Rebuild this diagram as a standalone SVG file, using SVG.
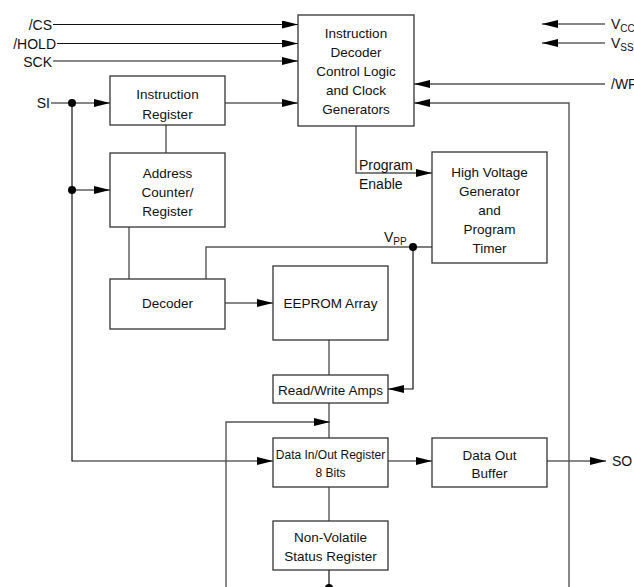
<svg xmlns="http://www.w3.org/2000/svg" width="634" height="587" viewBox="0 0 634 587">
<style>
.box{fill:#fff;stroke:#333;stroke-width:1.3}
.t{font-family:"Liberation Sans",Arial,sans-serif;font-size:13.5px;fill:#111;text-anchor:middle}
.l{font-family:"Liberation Sans",Arial,sans-serif;font-size:14px;fill:#111}
.s{font-size:10px}
.w{fill:none;stroke:#111;stroke-width:1.2}
.g{fill:none;stroke:#555;stroke-width:1.4}
.dot{fill:#000}
</style>
<defs>
<marker id="ah" markerUnits="userSpaceOnUse" markerWidth="16" markerHeight="8" refX="16" refY="4" orient="auto">
<path d="M0,0 L16,4 L0,8 z" fill="#000"/>
</marker>
</defs>

<g id="connectors">
<path class="w" d="M53,24.5 H298" marker-end="url(#ah)"/>
<path class="w" d="M57,43.5 H298" marker-end="url(#ah)"/>
<path class="w" d="M53,61 H298" marker-end="url(#ah)"/>
<path class="w" d="M51,103 H110" marker-end="url(#ah)"/>
<path class="w" d="M225,103 H298" marker-end="url(#ah)"/>
<path class="w" d="M72,103 V461 H273" marker-end="url(#ah)"/>
<path class="w" d="M72,190 H110" marker-end="url(#ah)"/>
<path class="g" d="M166,125 V153"/>
<path class="g" d="M129,227 V279"/>
<path class="g" d="M356,126 V173 H432" marker-end="url(#ah)"/>
<path class="g" d="M206,279 V247 H432"/>
<path class="w" d="M413,247 V389 H388" marker-end="url(#ah)"/>
<path class="w" d="M225,303 H273" marker-end="url(#ah)"/>
<path class="g" d="M329,340 V375"/>
<path class="g" d="M329,403 V438"/>
<path class="g" d="M226,590 V422 H330" marker-end="url(#ah)"/>
<path class="w" d="M388,461 H432" marker-end="url(#ah)"/>
<path class="w" d="M547,461 H606" marker-end="url(#ah)"/>
<path class="g" d="M329,487 V521"/>
<path class="w" d="M329,570 V590"/>
<path class="g" d="M569,590 V103 H414" marker-end="url(#ah)"/>
<path class="g" d="M605,84 H414" marker-end="url(#ah)"/>
<path class="w" d="M605,24 H542" marker-end="url(#ah)"/>
<path class="w" d="M605,43 H542" marker-end="url(#ah)"/>
<circle class="dot" cx="72" cy="103" r="4"/>
<circle class="dot" cx="72" cy="190" r="4"/>
<circle class="dot" cx="413" cy="247" r="4"/>
<circle class="dot" cx="329" cy="588" r="4"/>
</g>

<g id="pins">
<text class="l" x="52" y="30" text-anchor="end">/CS</text>
<text class="l" x="56" y="49" text-anchor="end">/HOLD</text>
<text class="l" x="52" y="67" text-anchor="end">SCK</text>
<text class="l" x="50" y="108" text-anchor="end">SI</text>
<text class="l" x="611" y="29">V<tspan class="s" dy="3">CC</tspan></text>
<text class="l" x="611" y="48">V<tspan class="s" dy="3">SS</tspan></text>
<text class="l" x="611" y="89">/WP</text>
<text class="l" x="612" y="466">SO</text>
<text class="l" x="384" y="242">V<tspan class="s" dy="3">PP</tspan></text>
<text class="l" x="359" y="170">Program</text>
<text class="l" x="359" y="189">Enable</text>
</g>

<g id="decoder-ctrl">
<rect class="box" x="298" y="15" width="116" height="111"/>
<text class="t" x="356" y="38">Instruction</text>
<text class="t" x="356" y="57">Decoder</text>
<text class="t" x="356" y="76">Control Logic</text>
<text class="t" x="356" y="95">and Clock</text>
<text class="t" x="356" y="114">Generators</text>
</g>

<g id="instr-reg">
<rect class="box" x="110" y="76" width="115" height="49"/>
<text class="t" x="167.5" y="99">Instruction</text>
<text class="t" x="167.5" y="118.5">Register</text>
</g>

<g id="addr-counter">
<rect class="box" x="110" y="153" width="115" height="74"/>
<text class="t" x="167.5" y="178">Address</text>
<text class="t" x="167.5" y="197">Counter/</text>
<text class="t" x="167.5" y="216">Register</text>
</g>

<g id="hv-gen">
<rect class="box" x="432" y="152" width="115" height="111"/>
<text class="t" x="489.5" y="177">High Voltage</text>
<text class="t" x="489.5" y="196">Generator</text>
<text class="t" x="489.5" y="215">and</text>
<text class="t" x="489.5" y="234">Program</text>
<text class="t" x="489.5" y="253">Timer</text>
</g>

<g id="row-decoder">
<rect class="box" x="110" y="279" width="115" height="50"/>
<text class="t" x="167.5" y="308">Decoder</text>
</g>

<g id="eeprom">
<rect class="box" x="273" y="266" width="115" height="74"/>
<text class="t" x="330.5" y="308">EEPROM Array</text>
</g>

<g id="rw-amps">
<rect class="box" x="273" y="375" width="115" height="28"/>
<text class="t" x="330.5" y="395">Read/Write Amps</text>
</g>

<g id="data-reg">
<rect class="box" x="273" y="438" width="115" height="49"/>
<text class="t" x="330.5" y="459" style="font-size:12px">Data In/Out Register</text>
<text class="t" x="330.5" y="477" style="font-size:12px">8 Bits</text>
</g>

<g id="data-out">
<rect class="box" x="432" y="438" width="115" height="49"/>
<text class="t" x="489.5" y="460">Data Out</text>
<text class="t" x="489.5" y="478">Buffer</text>
</g>

<g id="status-reg">
<rect class="box" x="273" y="521" width="115" height="49"/>
<text class="t" x="330.5" y="542">Non-Volatile</text>
<text class="t" x="330.5" y="561">Status Register</text>
</g>
</svg>
